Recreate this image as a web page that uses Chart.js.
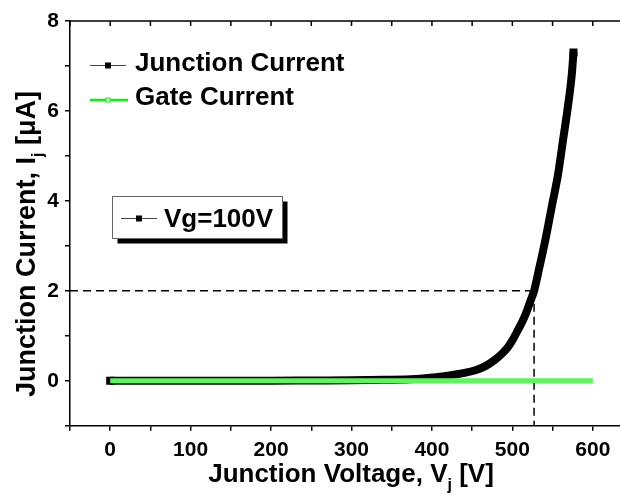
<!DOCTYPE html>
<html>
<head>
<meta charset="utf-8">
<script src="https://cdn.jsdelivr.net/npm/chart.js@4/dist/chart.umd.min.js"></script>
<style>
  html, body { margin: 0; padding: 0; background: #fff; }
  #wrap { width: 620px; height: 495px; overflow: hidden; position: relative; }
  #box { width: 640px; height: 495px; }
</style>
</head>
<body>
<div id="wrap"><div id="box"><canvas id="chart"></canvas></div></div>
<script>
  // Datos
  const junctionV = [0, 50, 100, 150, 200, 250, 300, 340, 380, 405, 426, 442, 455, 467, 478, 487, 495, 501, 507, 512, 517, 522, 527, 532, 541, 549, 557, 563, 569, 574, 576];
  const junctionI = [0, 0, 0, 0, 0, 0.005, 0.01, 0.02, 0.04, 0.08, 0.13, 0.18, 0.24, 0.33, 0.46, 0.6, 0.76, 0.93, 1.13, 1.3, 1.5, 1.75, 2.0, 2.39, 3.13, 3.87, 4.61, 5.35, 6.09, 6.83, 7.3];
  const gateV = [0, 100, 200, 300, 400, 500, 600];
  const gateI = [0, 0, 0, 0, 0, 0, 0];
  const markerV = [-50, 527];
  const markerI = [2, -1];
  const xTicks = [-50, 0, 50, 100, 150, 200, 250, 300, 350, 400, 450, 500, 550, 600, 650];
  const yTicks = [-1, 0, 1, 2, 3, 4, 5, 6, 7, 8];
  const xLabels = [0, 100, 200, 300, 400, 500, 600];
  const yLabels = [0, 2, 4, 6, 8];
  const legendNames = ['Junction Current', 'Gate Current'];
  const boxText = 'Vg=100V';

  const FONT = "'Liberation Sans', Arial, sans-serif";
  const GREEN = '#5cf55c';

  const pts = (xs, ys) => xs.map((x, i) => ({ x, y: ys[i] }));

  // Títulos con subíndice, marco superior y leyendas
  const decor = {
    id: 'decor',
    afterDraw(chart) {
      const { ctx, chartArea: a, scales } = chart;
      ctx.save();
      // marco superior con ticks hacia dentro
      ctx.strokeStyle = '#000';
      ctx.lineWidth = 1.5;
      ctx.beginPath();
      ctx.moveTo(a.left, a.top);
      ctx.lineTo(a.right, a.top);
      xTicks.forEach(v => {
        const px = scales.x.getPixelForValue(v);
        ctx.moveTo(px, a.top);
        ctx.lineTo(px, a.top + 5);
      });
      ctx.stroke();

      ctx.fillStyle = '#000';
      const big = `bold 26px ${FONT}`;
      const bigY = `bold 27px ${FONT}`;
      const small = `bold 16px ${FONT}`;

      // título eje x
      const parts = [['Junction Voltage, V', big, 0], ['j', small, 8], [' [V]', big, 0]];
      const widthOf = p => { ctx.font = p[1]; return ctx.measureText(p[0]).width; };
      const total = parts.reduce((s, p) => s + widthOf(p), 0);
      let x = 351 - total / 2;
      ctx.textBaseline = 'alphabetic';
      ctx.textAlign = 'left';
      parts.forEach(p => {
        ctx.font = p[1];
        ctx.fillText(p[0], x, 481.5 + p[2]);
        x += ctx.measureText(p[0]).width;
      });

      // título eje y
      const yparts = [['Junction Current, I', bigY, 0], ['j', small, 8], [' [\u03BCA]', bigY, 0]];
      const ytotal = yparts.reduce((s, p) => s + widthOf(p), 0);
      ctx.save();
      ctx.translate(35, 244);
      ctx.rotate(-Math.PI / 2);
      x = -ytotal / 2;
      yparts.forEach(p => {
        ctx.font = p[1];
        ctx.fillText(p[0], x, p[2]);
        x += ctx.measureText(p[0]).width;
      });
      ctx.restore();

      // leyenda
      ctx.lineWidth = 1;
      ctx.strokeStyle = '#444';
      ctx.beginPath();
      ctx.moveTo(90, 65.5);
      ctx.lineTo(126, 65.5);
      ctx.stroke();
      ctx.fillRect(105, 62.5, 6, 6);
      ctx.lineWidth = 2.5;
      ctx.strokeStyle = '#11ee11';
      ctx.beginPath();
      ctx.moveTo(90, 100);
      ctx.lineTo(128, 100);
      ctx.stroke();
      ctx.fillStyle = '#fff';
      ctx.lineWidth = 1;
      ctx.fillRect(106, 98, 4, 4);
      ctx.strokeRect(106, 98, 4, 4);
      ctx.fillStyle = '#000';
      ctx.font = big;
      ctx.fillText(legendNames[0], 135, 70.5);
      ctx.fillText(legendNames[1], 135, 105);

      // recuadro Vg
      ctx.fillRect(117.5, 201.5, 170, 42);
      ctx.fillStyle = '#fff';
      ctx.fillRect(112.5, 196.5, 170, 42);
      ctx.strokeStyle = '#666';
      ctx.strokeRect(112.5, 196.5, 170, 42);
      ctx.strokeStyle = '#444';
      ctx.beginPath();
      ctx.moveTo(121, 218.5);
      ctx.lineTo(157, 218.5);
      ctx.stroke();
      ctx.fillStyle = '#000';
      ctx.fillRect(136, 215.5, 6, 6);
      ctx.fillText(boxText, 164, 227);
      ctx.restore();
    }
  };

  const lastIdx = junctionV.length - 1;

  new Chart(document.getElementById('chart'), {
    type: 'line',
    data: {
      datasets: [
        {
          label: legendNames[1],
          data: pts(gateV, gateI),
          borderColor: GREEN,
          borderWidth: 5,
          pointRadius: 0,
          borderCapStyle: 'butt',
          order: 0
        },
        {
          label: legendNames[0],
          data: pts(junctionV, junctionI),
          borderColor: '#000',
          backgroundColor: '#000',
          borderWidth: 8,
          cubicInterpolationMode: 'monotone',
          borderCapStyle: 'butt',
          pointStyle: 'rect',
          pointBorderWidth: 0,
          pointBackgroundColor: '#000',
          pointRadius: c => (c.dataIndex === 0 || c.dataIndex === lastIdx) ? 5.7 : 0,
          order: 1
        },
        {
          label: 'h',
          data: pts(markerV, [markerI[0], markerI[0]]),
          borderColor: '#000',
          borderWidth: 1.5,
          borderDash: [8, 5],
          pointRadius: 0,
          order: 2
        },
        {
          label: 'v',
          data: pts([markerV[1], markerV[1]], markerI),
          borderColor: '#000',
          borderWidth: 1.5,
          borderDash: [8, 5],
          pointRadius: 0,
          order: 2
        }
      ]
    },
    options: {
      responsive: true,
      maintainAspectRatio: false,
      animation: false,
      layout: { padding: { top: 21, right: 2, left: 0, bottom: 0 } },
      plugins: { legend: { display: false }, tooltip: { enabled: false } },
      scales: {
        x: {
          type: 'linear',
          min: -50,
          max: 650,
          afterBuildTicks: s => { s.ticks = xTicks.map(v => ({ value: v })); },
          afterFit: s => { s.height = 69.3; },
          border: { display: true, color: '#000', width: 1.5 },
          grid: { drawOnChartArea: false, drawTicks: true, tickLength: 5, color: '#000', lineWidth: 1.5 },
          ticks: {
            autoSkip: false,
            maxRotation: 0,
            padding: 7,
            color: '#000',
            font: { family: FONT, size: 21, weight: 'bold' },
            callback: v => xLabels.includes(v) ? String(v) : ''
          }
        },
        y: {
          type: 'linear',
          min: -1,
          max: 8,
          afterBuildTicks: s => { s.ticks = yTicks.map(v => ({ value: v })); },
          afterFit: s => { s.width = 70; },
          border: { display: true, color: '#000', width: 1.5 },
          grid: { drawOnChartArea: false, drawTicks: true, tickLength: 5, color: '#000', lineWidth: 1.5 },
          ticks: {
            autoSkip: false,
            padding: 6,
            color: '#000',
            font: { family: FONT, size: 21, weight: 'bold' },
            callback: v => yLabels.includes(v) ? String(v) : ''
          }
        }
      }
    },
    plugins: [decor]
  });
</script>
</body>
</html>
